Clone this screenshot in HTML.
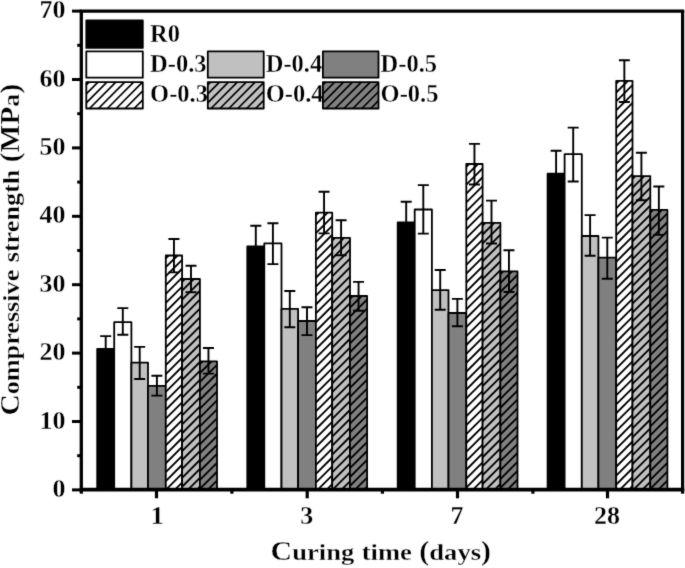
<!DOCTYPE html><html><head><meta charset="utf-8"><style>html,body{margin:0;padding:0;background:#fff;}svg{display:block;will-change:transform;}text{font-family:"Liberation Serif",serif;font-weight:bold;}.th{stroke:#fff;stroke-width:0.3px;}</style></head><body>
<svg width="685" height="568" viewBox="0 0 685 568">
<defs><filter id="bl" color-interpolation-filters="sRGB" filterUnits="userSpaceOnUse" x="0" y="0" width="685" height="568"><feConvolveMatrix order="3" kernelMatrix="0.0113 0.0838 0.0113 0.0838 0.6193 0.0838 0.0113 0.0838 0.0113" edgeMode="duplicate" preserveAlpha="true"/></filter>
</defs><g filter="url(#bl)">
<rect width="685" height="568" fill="#fff"/>
<path d="M97.20 489.20V348.90H114.20V489.20" fill="#000" stroke="#000" stroke-width="1.8" stroke-linejoin="round"/>
<path d="M114.20 489.20V322.20H131.40V489.20" fill="#fff" stroke="#000" stroke-width="1.8" stroke-linejoin="round"/>
<path d="M131.40 489.20V362.60H148.00V489.20" fill="#c0c0c0" stroke="#000" stroke-width="1.8" stroke-linejoin="round"/>
<path d="M148.00 489.20V385.80H165.80V489.20" fill="#808080" stroke="#000" stroke-width="1.8" stroke-linejoin="round"/>
<path d="M165.80 489.20V255.50H182.10V489.20Z" fill="#fff"/>
<path d="M165.80 258.30L168.60 255.50M165.80 267.21L177.51 255.50M165.80 276.12L182.10 259.82M165.80 285.03L182.10 268.73M165.80 293.94L182.10 277.64M165.80 302.85L182.10 286.55M165.80 311.76L182.10 295.46M165.80 320.67L182.10 304.37M165.80 329.58L182.10 313.28M165.80 338.49L182.10 322.19M165.80 347.40L182.10 331.10M165.80 356.31L182.10 340.01M165.80 365.22L182.10 348.92M165.80 374.13L182.10 357.83M165.80 383.04L182.10 366.74M165.80 391.95L182.10 375.65M165.80 400.86L182.10 384.56M165.80 409.77L182.10 393.47M165.80 418.68L182.10 402.38M165.80 427.59L182.10 411.29M165.80 436.50L182.10 420.20M165.80 445.41L182.10 429.11M165.80 454.32L182.10 438.02M165.80 463.23L182.10 446.93M165.80 472.14L182.10 455.84M165.80 481.05L182.10 464.75M166.56 489.20L182.10 473.66M175.47 489.20L182.10 482.57" stroke="#000" stroke-width="1.85" fill="none"/>
<path d="M165.80 489.20V255.50H182.10V489.20" fill="none" stroke="#000" stroke-width="1.8" stroke-linejoin="round"/>
<path d="M182.10 489.20V279.00H199.90V489.20Z" fill="#c0c0c0"/>
<path d="M182.10 281.80L184.90 279.00M182.10 290.71L193.81 279.00M182.10 299.62L199.90 281.82M182.10 308.53L199.90 290.73M182.10 317.44L199.90 299.64M182.10 326.35L199.90 308.55M182.10 335.26L199.90 317.46M182.10 344.17L199.90 326.37M182.10 353.08L199.90 335.28M182.10 361.99L199.90 344.19M182.10 370.90L199.90 353.10M182.10 379.81L199.90 362.01M182.10 388.72L199.90 370.92M182.10 397.63L199.90 379.83M182.10 406.54L199.90 388.74M182.10 415.45L199.90 397.65M182.10 424.36L199.90 406.56M182.10 433.27L199.90 415.47M182.10 442.18L199.90 424.38M182.10 451.09L199.90 433.29M182.10 460.00L199.90 442.20M182.10 468.91L199.90 451.11M182.10 477.82L199.90 460.02M182.10 486.73L199.90 468.93M188.54 489.20L199.90 477.84M197.45 489.20L199.90 486.75" stroke="#000" stroke-width="1.85" fill="none"/>
<path d="M182.10 489.20V279.00H199.90V489.20" fill="none" stroke="#000" stroke-width="1.8" stroke-linejoin="round"/>
<path d="M199.90 489.20V361.30H217.00V489.20Z" fill="#808080"/>
<path d="M199.90 364.10L202.70 361.30M199.90 373.01L211.61 361.30M199.90 381.92L217.00 364.82M199.90 390.83L217.00 373.73M199.90 399.74L217.00 382.64M199.90 408.65L217.00 391.55M199.90 417.56L217.00 400.46M199.90 426.47L217.00 409.37M199.90 435.38L217.00 418.28M199.90 444.29L217.00 427.19M199.90 453.20L217.00 436.10M199.90 462.11L217.00 445.01M199.90 471.02L217.00 453.92M199.90 479.93L217.00 462.83M199.90 488.84L217.00 471.74M208.45 489.20L217.00 480.65" stroke="#000" stroke-width="1.85" fill="none"/>
<path d="M199.90 489.20V361.30H217.00V489.20" fill="none" stroke="#000" stroke-width="1.8" stroke-linejoin="round"/>
<path d="M247.30 489.20V246.40H264.30V489.20" fill="#000" stroke="#000" stroke-width="1.8" stroke-linejoin="round"/>
<path d="M264.30 489.20V243.40H281.50V489.20" fill="#fff" stroke="#000" stroke-width="1.8" stroke-linejoin="round"/>
<path d="M281.50 489.20V308.90H298.10V489.20" fill="#c0c0c0" stroke="#000" stroke-width="1.8" stroke-linejoin="round"/>
<path d="M298.10 489.20V321.00H315.90V489.20" fill="#808080" stroke="#000" stroke-width="1.8" stroke-linejoin="round"/>
<path d="M315.90 489.20V212.60H332.20V489.20Z" fill="#fff"/>
<path d="M315.90 215.40L318.70 212.60M315.90 224.31L327.61 212.60M315.90 233.22L332.20 216.92M315.90 242.13L332.20 225.83M315.90 251.04L332.20 234.74M315.90 259.95L332.20 243.65M315.90 268.86L332.20 252.56M315.90 277.77L332.20 261.47M315.90 286.68L332.20 270.38M315.90 295.59L332.20 279.29M315.90 304.50L332.20 288.20M315.90 313.41L332.20 297.11M315.90 322.32L332.20 306.02M315.90 331.23L332.20 314.93M315.90 340.14L332.20 323.84M315.90 349.05L332.20 332.75M315.90 357.96L332.20 341.66M315.90 366.87L332.20 350.57M315.90 375.78L332.20 359.48M315.90 384.69L332.20 368.39M315.90 393.60L332.20 377.30M315.90 402.51L332.20 386.21M315.90 411.42L332.20 395.12M315.90 420.33L332.20 404.03M315.90 429.24L332.20 412.94M315.90 438.15L332.20 421.85M315.90 447.06L332.20 430.76M315.90 455.97L332.20 439.67M315.90 464.88L332.20 448.58M315.90 473.79L332.20 457.49M315.90 482.70L332.20 466.40M318.31 489.20L332.20 475.31M327.22 489.20L332.20 484.22" stroke="#000" stroke-width="1.85" fill="none"/>
<path d="M315.90 489.20V212.60H332.20V489.20" fill="none" stroke="#000" stroke-width="1.8" stroke-linejoin="round"/>
<path d="M332.20 489.20V237.90H350.00V489.20Z" fill="#c0c0c0"/>
<path d="M332.20 240.70L335.00 237.90M332.20 249.61L343.91 237.90M332.20 258.52L350.00 240.72M332.20 267.43L350.00 249.63M332.20 276.34L350.00 258.54M332.20 285.25L350.00 267.45M332.20 294.16L350.00 276.36M332.20 303.07L350.00 285.27M332.20 311.98L350.00 294.18M332.20 320.89L350.00 303.09M332.20 329.80L350.00 312.00M332.20 338.71L350.00 320.91M332.20 347.62L350.00 329.82M332.20 356.53L350.00 338.73M332.20 365.44L350.00 347.64M332.20 374.35L350.00 356.55M332.20 383.26L350.00 365.46M332.20 392.17L350.00 374.37M332.20 401.08L350.00 383.28M332.20 409.99L350.00 392.19M332.20 418.90L350.00 401.10M332.20 427.81L350.00 410.01M332.20 436.72L350.00 418.92M332.20 445.63L350.00 427.83M332.20 454.54L350.00 436.74M332.20 463.45L350.00 445.65M332.20 472.36L350.00 454.56M332.20 481.27L350.00 463.47M333.18 489.20L350.00 472.38M342.09 489.20L350.00 481.29" stroke="#000" stroke-width="1.85" fill="none"/>
<path d="M332.20 489.20V237.90H350.00V489.20" fill="none" stroke="#000" stroke-width="1.8" stroke-linejoin="round"/>
<path d="M350.00 489.20V296.00H367.10V489.20Z" fill="#808080"/>
<path d="M350.00 298.80L352.80 296.00M350.00 307.71L361.71 296.00M350.00 316.62L367.10 299.52M350.00 325.53L367.10 308.43M350.00 334.44L367.10 317.34M350.00 343.35L367.10 326.25M350.00 352.26L367.10 335.16M350.00 361.17L367.10 344.07M350.00 370.08L367.10 352.98M350.00 378.99L367.10 361.89M350.00 387.90L367.10 370.80M350.00 396.81L367.10 379.71M350.00 405.72L367.10 388.62M350.00 414.63L367.10 397.53M350.00 423.54L367.10 406.44M350.00 432.45L367.10 415.35M350.00 441.36L367.10 424.26M350.00 450.27L367.10 433.17M350.00 459.18L367.10 442.08M350.00 468.09L367.10 450.99M350.00 477.00L367.10 459.90M350.00 485.91L367.10 468.81M355.62 489.20L367.10 477.72M364.53 489.20L367.10 486.63" stroke="#000" stroke-width="1.85" fill="none"/>
<path d="M350.00 489.20V296.00H367.10V489.20" fill="none" stroke="#000" stroke-width="1.8" stroke-linejoin="round"/>
<path d="M397.70 489.20V222.40H414.70V489.20" fill="#000" stroke="#000" stroke-width="1.8" stroke-linejoin="round"/>
<path d="M414.70 489.20V209.50H431.90V489.20" fill="#fff" stroke="#000" stroke-width="1.8" stroke-linejoin="round"/>
<path d="M431.90 489.20V290.20H448.50V489.20" fill="#c0c0c0" stroke="#000" stroke-width="1.8" stroke-linejoin="round"/>
<path d="M448.50 489.20V313.00H466.30V489.20" fill="#808080" stroke="#000" stroke-width="1.8" stroke-linejoin="round"/>
<path d="M466.30 489.20V164.00H482.60V489.20Z" fill="#fff"/>
<path d="M466.30 166.80L469.10 164.00M466.30 175.71L478.01 164.00M466.30 184.62L482.60 168.32M466.30 193.53L482.60 177.23M466.30 202.44L482.60 186.14M466.30 211.35L482.60 195.05M466.30 220.26L482.60 203.96M466.30 229.17L482.60 212.87M466.30 238.08L482.60 221.78M466.30 246.99L482.60 230.69M466.30 255.90L482.60 239.60M466.30 264.81L482.60 248.51M466.30 273.72L482.60 257.42M466.30 282.63L482.60 266.33M466.30 291.54L482.60 275.24M466.30 300.45L482.60 284.15M466.30 309.36L482.60 293.06M466.30 318.27L482.60 301.97M466.30 327.18L482.60 310.88M466.30 336.09L482.60 319.79M466.30 345.00L482.60 328.70M466.30 353.91L482.60 337.61M466.30 362.82L482.60 346.52M466.30 371.73L482.60 355.43M466.30 380.64L482.60 364.34M466.30 389.55L482.60 373.25M466.30 398.46L482.60 382.16M466.30 407.37L482.60 391.07M466.30 416.28L482.60 399.98M466.30 425.19L482.60 408.89M466.30 434.10L482.60 417.80M466.30 443.01L482.60 426.71M466.30 451.92L482.60 435.62M466.30 460.83L482.60 444.53M466.30 469.74L482.60 453.44M466.30 478.65L482.60 462.35M466.30 487.56L482.60 471.26M473.57 489.20L482.60 480.17M482.48 489.20L482.60 489.08" stroke="#000" stroke-width="1.85" fill="none"/>
<path d="M466.30 489.20V164.00H482.60V489.20" fill="none" stroke="#000" stroke-width="1.8" stroke-linejoin="round"/>
<path d="M482.60 489.20V222.80H500.40V489.20Z" fill="#c0c0c0"/>
<path d="M482.60 225.60L485.40 222.80M482.60 234.51L494.31 222.80M482.60 243.42L500.40 225.62M482.60 252.33L500.40 234.53M482.60 261.24L500.40 243.44M482.60 270.15L500.40 252.35M482.60 279.06L500.40 261.26M482.60 287.97L500.40 270.17M482.60 296.88L500.40 279.08M482.60 305.79L500.40 287.99M482.60 314.70L500.40 296.90M482.60 323.61L500.40 305.81M482.60 332.52L500.40 314.72M482.60 341.43L500.40 323.63M482.60 350.34L500.40 332.54M482.60 359.25L500.40 341.45M482.60 368.16L500.40 350.36M482.60 377.07L500.40 359.27M482.60 385.98L500.40 368.18M482.60 394.89L500.40 377.09M482.60 403.80L500.40 386.00M482.60 412.71L500.40 394.91M482.60 421.62L500.40 403.82M482.60 430.53L500.40 412.73M482.60 439.44L500.40 421.64M482.60 448.35L500.40 430.55M482.60 457.26L500.40 439.46M482.60 466.17L500.40 448.37M482.60 475.08L500.40 457.28M482.60 483.99L500.40 466.19M486.30 489.20L500.40 475.10M495.21 489.20L500.40 484.01" stroke="#000" stroke-width="1.85" fill="none"/>
<path d="M482.60 489.20V222.80H500.40V489.20" fill="none" stroke="#000" stroke-width="1.8" stroke-linejoin="round"/>
<path d="M500.40 489.20V271.30H517.50V489.20Z" fill="#808080"/>
<path d="M500.40 274.10L503.20 271.30M500.40 283.01L512.11 271.30M500.40 291.92L517.50 274.82M500.40 300.83L517.50 283.73M500.40 309.74L517.50 292.64M500.40 318.65L517.50 301.55M500.40 327.56L517.50 310.46M500.40 336.47L517.50 319.37M500.40 345.38L517.50 328.28M500.40 354.29L517.50 337.19M500.40 363.20L517.50 346.10M500.40 372.11L517.50 355.01M500.40 381.02L517.50 363.92M500.40 389.93L517.50 372.83M500.40 398.84L517.50 381.74M500.40 407.75L517.50 390.65M500.40 416.66L517.50 399.56M500.40 425.57L517.50 408.47M500.40 434.48L517.50 417.38M500.40 443.39L517.50 426.29M500.40 452.30L517.50 435.20M500.40 461.21L517.50 444.11M500.40 470.12L517.50 453.02M500.40 479.03L517.50 461.93M500.40 487.94L517.50 470.84M508.05 489.20L517.50 479.75M516.96 489.20L517.50 488.66" stroke="#000" stroke-width="1.85" fill="none"/>
<path d="M500.40 489.20V271.30H517.50V489.20" fill="none" stroke="#000" stroke-width="1.8" stroke-linejoin="round"/>
<path d="M547.60 489.20V173.60H564.60V489.20" fill="#000" stroke="#000" stroke-width="1.8" stroke-linejoin="round"/>
<path d="M564.60 489.20V154.20H581.80V489.20" fill="#fff" stroke="#000" stroke-width="1.8" stroke-linejoin="round"/>
<path d="M581.80 489.20V236.00H598.40V489.20" fill="#c0c0c0" stroke="#000" stroke-width="1.8" stroke-linejoin="round"/>
<path d="M598.40 489.20V257.70H616.20V489.20" fill="#808080" stroke="#000" stroke-width="1.8" stroke-linejoin="round"/>
<path d="M616.20 489.20V80.80H632.50V489.20Z" fill="#fff"/>
<path d="M616.20 83.60L619.00 80.80M616.20 92.51L627.91 80.80M616.20 101.42L632.50 85.12M616.20 110.33L632.50 94.03M616.20 119.24L632.50 102.94M616.20 128.15L632.50 111.85M616.20 137.06L632.50 120.76M616.20 145.97L632.50 129.67M616.20 154.88L632.50 138.58M616.20 163.79L632.50 147.49M616.20 172.70L632.50 156.40M616.20 181.61L632.50 165.31M616.20 190.52L632.50 174.22M616.20 199.43L632.50 183.13M616.20 208.34L632.50 192.04M616.20 217.25L632.50 200.95M616.20 226.16L632.50 209.86M616.20 235.07L632.50 218.77M616.20 243.98L632.50 227.68M616.20 252.89L632.50 236.59M616.20 261.80L632.50 245.50M616.20 270.71L632.50 254.41M616.20 279.62L632.50 263.32M616.20 288.53L632.50 272.23M616.20 297.44L632.50 281.14M616.20 306.35L632.50 290.05M616.20 315.26L632.50 298.96M616.20 324.17L632.50 307.87M616.20 333.08L632.50 316.78M616.20 341.99L632.50 325.69M616.20 350.90L632.50 334.60M616.20 359.81L632.50 343.51M616.20 368.72L632.50 352.42M616.20 377.63L632.50 361.33M616.20 386.54L632.50 370.24M616.20 395.45L632.50 379.15M616.20 404.36L632.50 388.06M616.20 413.27L632.50 396.97M616.20 422.18L632.50 405.88M616.20 431.09L632.50 414.79M616.20 440.00L632.50 423.70M616.20 448.91L632.50 432.61M616.20 457.82L632.50 441.52M616.20 466.73L632.50 450.43M616.20 475.64L632.50 459.34M616.20 484.55L632.50 468.25M620.46 489.20L632.50 477.16M629.37 489.20L632.50 486.07" stroke="#000" stroke-width="1.85" fill="none"/>
<path d="M616.20 489.20V80.80H632.50V489.20" fill="none" stroke="#000" stroke-width="1.8" stroke-linejoin="round"/>
<path d="M632.50 489.20V176.10H650.30V489.20Z" fill="#c0c0c0"/>
<path d="M632.50 178.90L635.30 176.10M632.50 187.81L644.21 176.10M632.50 196.72L650.30 178.92M632.50 205.63L650.30 187.83M632.50 214.54L650.30 196.74M632.50 223.45L650.30 205.65M632.50 232.36L650.30 214.56M632.50 241.27L650.30 223.47M632.50 250.18L650.30 232.38M632.50 259.09L650.30 241.29M632.50 268.00L650.30 250.20M632.50 276.91L650.30 259.11M632.50 285.82L650.30 268.02M632.50 294.73L650.30 276.93M632.50 303.64L650.30 285.84M632.50 312.55L650.30 294.75M632.50 321.46L650.30 303.66M632.50 330.37L650.30 312.57M632.50 339.28L650.30 321.48M632.50 348.19L650.30 330.39M632.50 357.10L650.30 339.30M632.50 366.01L650.30 348.21M632.50 374.92L650.30 357.12M632.50 383.83L650.30 366.03M632.50 392.74L650.30 374.94M632.50 401.65L650.30 383.85M632.50 410.56L650.30 392.76M632.50 419.47L650.30 401.67M632.50 428.38L650.30 410.58M632.50 437.29L650.30 419.49M632.50 446.20L650.30 428.40M632.50 455.11L650.30 437.31M632.50 464.02L650.30 446.22M632.50 472.93L650.30 455.13M632.50 481.84L650.30 464.04M634.05 489.20L650.30 472.95M642.96 489.20L650.30 481.86" stroke="#000" stroke-width="1.85" fill="none"/>
<path d="M632.50 489.20V176.10H650.30V489.20" fill="none" stroke="#000" stroke-width="1.8" stroke-linejoin="round"/>
<path d="M650.30 489.20V209.80H667.40V489.20Z" fill="#808080"/>
<path d="M650.30 212.60L653.10 209.80M650.30 221.51L662.01 209.80M650.30 230.42L667.40 213.32M650.30 239.33L667.40 222.23M650.30 248.24L667.40 231.14M650.30 257.15L667.40 240.05M650.30 266.06L667.40 248.96M650.30 274.97L667.40 257.87M650.30 283.88L667.40 266.78M650.30 292.79L667.40 275.69M650.30 301.70L667.40 284.60M650.30 310.61L667.40 293.51M650.30 319.52L667.40 302.42M650.30 328.43L667.40 311.33M650.30 337.34L667.40 320.24M650.30 346.25L667.40 329.15M650.30 355.16L667.40 338.06M650.30 364.07L667.40 346.97M650.30 372.98L667.40 355.88M650.30 381.89L667.40 364.79M650.30 390.80L667.40 373.70M650.30 399.71L667.40 382.61M650.30 408.62L667.40 391.52M650.30 417.53L667.40 400.43M650.30 426.44L667.40 409.34M650.30 435.35L667.40 418.25M650.30 444.26L667.40 427.16M650.30 453.17L667.40 436.07M650.30 462.08L667.40 444.98M650.30 470.99L667.40 453.89M650.30 479.90L667.40 462.80M650.30 488.81L667.40 471.71M658.82 489.20L667.40 480.62" stroke="#000" stroke-width="1.85" fill="none"/>
<path d="M650.30 489.20V209.80H667.40V489.20" fill="none" stroke="#000" stroke-width="1.8" stroke-linejoin="round"/>
<path d="M105.70 336.10V361.70M100.20 336.10H111.20M100.20 361.70H111.20" stroke="#000" stroke-width="1.9" fill="none"/>
<path d="M122.80 308.10V334.70M117.30 308.10H128.30M117.30 334.70H128.30" stroke="#000" stroke-width="1.9" fill="none"/>
<path d="M139.70 346.90V379.00M134.20 346.90H145.20M134.20 379.00H145.20" stroke="#000" stroke-width="1.9" fill="none"/>
<path d="M156.90 375.80V395.60M151.40 375.80H162.40M151.40 395.60H162.40" stroke="#000" stroke-width="1.9" fill="none"/>
<path d="M173.95 238.95V272.40M168.45 238.95H179.45M168.45 272.40H179.45" stroke="#000" stroke-width="1.9" fill="none"/>
<path d="M191.00 265.80V292.20M185.50 265.80H196.50M185.50 292.20H196.50" stroke="#000" stroke-width="1.9" fill="none"/>
<path d="M208.45 348.00V373.60M202.95 348.00H213.95M202.95 373.60H213.95" stroke="#000" stroke-width="1.9" fill="none"/>
<path d="M255.80 225.80V267.00M250.30 225.80H261.30M250.30 267.00H261.30" stroke="#000" stroke-width="1.9" fill="none"/>
<path d="M272.90 223.20V264.10M267.40 223.20H278.40M267.40 264.10H278.40" stroke="#000" stroke-width="1.9" fill="none"/>
<path d="M289.80 291.00V327.30M284.30 291.00H295.30M284.30 327.30H295.30" stroke="#000" stroke-width="1.9" fill="none"/>
<path d="M307.00 307.20V335.10M301.50 307.20H312.50M301.50 335.10H312.50" stroke="#000" stroke-width="1.9" fill="none"/>
<path d="M324.05 191.70V233.40M318.55 191.70H329.55M318.55 233.40H329.55" stroke="#000" stroke-width="1.9" fill="none"/>
<path d="M341.10 220.30V255.20M335.60 220.30H346.60M335.60 255.20H346.60" stroke="#000" stroke-width="1.9" fill="none"/>
<path d="M358.55 281.90V310.80M353.05 281.90H364.05M353.05 310.80H364.05" stroke="#000" stroke-width="1.9" fill="none"/>
<path d="M406.20 201.70V243.10M400.70 201.70H411.70M400.70 243.10H411.70" stroke="#000" stroke-width="1.9" fill="none"/>
<path d="M423.30 185.10V233.60M417.80 185.10H428.80M417.80 233.60H428.80" stroke="#000" stroke-width="1.9" fill="none"/>
<path d="M440.20 270.00V309.70M434.70 270.00H445.70M434.70 309.70H445.70" stroke="#000" stroke-width="1.9" fill="none"/>
<path d="M457.40 298.90V326.30M451.90 298.90H462.90M451.90 326.30H462.90" stroke="#000" stroke-width="1.9" fill="none"/>
<path d="M474.45 143.90V184.50M468.95 143.90H479.95M468.95 184.50H479.95" stroke="#000" stroke-width="1.9" fill="none"/>
<path d="M491.50 200.60V243.50M486.00 200.60H497.00M486.00 243.50H497.00" stroke="#000" stroke-width="1.9" fill="none"/>
<path d="M508.95 250.20V292.00M503.45 250.20H514.45M503.45 292.00H514.45" stroke="#000" stroke-width="1.9" fill="none"/>
<path d="M556.10 150.80V196.40M550.60 150.80H561.60M550.60 196.40H561.60" stroke="#000" stroke-width="1.9" fill="none"/>
<path d="M573.20 127.60V181.50M567.70 127.60H578.70M567.70 181.50H578.70" stroke="#000" stroke-width="1.9" fill="none"/>
<path d="M590.10 215.10V255.70M584.60 215.10H595.60M584.60 255.70H595.60" stroke="#000" stroke-width="1.9" fill="none"/>
<path d="M607.30 237.60V278.70M601.80 237.60H612.80M601.80 278.70H612.80" stroke="#000" stroke-width="1.9" fill="none"/>
<path d="M624.35 60.20V102.00M618.85 60.20H629.85M618.85 102.00H629.85" stroke="#000" stroke-width="1.9" fill="none"/>
<path d="M641.40 152.70V200.30M635.90 152.70H646.90M635.90 200.30H646.90" stroke="#000" stroke-width="1.9" fill="none"/>
<path d="M658.85 186.50V234.90M653.35 186.50H664.35M653.35 234.90H664.35" stroke="#000" stroke-width="1.9" fill="none"/>
<path d="M79.64999999999999 11.1H684.2" stroke="#000" stroke-width="3.2"/>
<path d="M79.64999999999999 489.6H684.2" stroke="#000" stroke-width="3.8"/>
<path d="M81.3 11.1V489.6" stroke="#000" stroke-width="3.3"/>
<path d="M682.6 11.1V489.6" stroke="#000" stroke-width="3.2"/>
<path d="M72 489.90H81.3" stroke="#000" stroke-width="3"/>
<path d="M72 421.50H81.3" stroke="#000" stroke-width="3"/>
<path d="M72 353.10H81.3" stroke="#000" stroke-width="3"/>
<path d="M72 284.70H81.3" stroke="#000" stroke-width="3"/>
<path d="M72 216.30H81.3" stroke="#000" stroke-width="3"/>
<path d="M72 147.90H81.3" stroke="#000" stroke-width="3"/>
<path d="M72 79.50H81.3" stroke="#000" stroke-width="3"/>
<path d="M72 11.10H81.3" stroke="#000" stroke-width="3"/>
<path d="M77.2 455.70H81.3" stroke="#000" stroke-width="3"/>
<path d="M77.2 387.30H81.3" stroke="#000" stroke-width="3"/>
<path d="M77.2 318.90H81.3" stroke="#000" stroke-width="3"/>
<path d="M77.2 250.50H81.3" stroke="#000" stroke-width="3"/>
<path d="M77.2 182.10H81.3" stroke="#000" stroke-width="3"/>
<path d="M77.2 113.70H81.3" stroke="#000" stroke-width="3"/>
<path d="M77.2 45.30H81.3" stroke="#000" stroke-width="3"/>
<path d="M156.5 489.2V498.3" stroke="#000" stroke-width="3.2"/>
<path d="M307.2 489.2V498.3" stroke="#000" stroke-width="3.2"/>
<path d="M457.5 489.2V498.3" stroke="#000" stroke-width="3.2"/>
<path d="M607.5 489.2V498.3" stroke="#000" stroke-width="3.2"/>
<path d="M81.3 489.2V493.7" stroke="#000" stroke-width="3.2"/>
<path d="M231.9 489.2V493.7" stroke="#000" stroke-width="3.2"/>
<path d="M382.4 489.2V493.7" stroke="#000" stroke-width="3.2"/>
<path d="M532.9 489.2V493.7" stroke="#000" stroke-width="3.2"/>
<path d="M682.6 489.2V493.7" stroke="#000" stroke-width="3.2"/>
<text x="65.6" y="496.90" font-size="26" text-anchor="end" class="th">0</text>
<text x="65.6" y="428.50" font-size="26" text-anchor="end" class="th">10</text>
<text x="65.6" y="360.10" font-size="26" text-anchor="end" class="th">20</text>
<text x="65.6" y="291.70" font-size="26" text-anchor="end" class="th">30</text>
<text x="65.6" y="223.30" font-size="26" text-anchor="end" class="th">40</text>
<text x="65.6" y="154.90" font-size="26" text-anchor="end" class="th">50</text>
<text x="65.6" y="86.50" font-size="26" text-anchor="end" class="th">60</text>
<text x="65.6" y="18.10" font-size="26" text-anchor="end" class="th">70</text>
<text x="157.3" y="524" font-size="26" text-anchor="middle" class="th">1</text>
<text x="306.7" y="524" font-size="26" text-anchor="middle" class="th">3</text>
<text x="457.1" y="524" font-size="26" text-anchor="middle" class="th">7</text>
<text x="606.9" y="524" font-size="26" text-anchor="middle" class="th">28</text>
<text x="270.6" y="559.6" textLength="220.4" lengthAdjust="spacingAndGlyphs" class="th"><tspan font-size="26.5">C</tspan><tspan font-size="23.6">uring</tspan><tspan font-size="26.5"> </tspan><tspan font-size="23.6">time</tspan><tspan font-size="26.5"> (</tspan><tspan font-size="23.6">days</tspan><tspan font-size="26.5">)</tspan></text>
<text transform="translate(19.4,415.6) rotate(-90)" x="0" y="0" textLength="331.8" lengthAdjust="spacingAndGlyphs" class="th"><tspan font-size="26.5">C</tspan><tspan font-size="23.6">ompressive</tspan><tspan font-size="26.5"> </tspan><tspan font-size="23.6">strength</tspan><tspan font-size="26.5"> (MP</tspan><tspan font-size="23.6">a</tspan><tspan font-size="26.5">)</tspan></text>
<rect x="86.30" y="20.40" width="56.50" height="27.50" fill="#000" stroke="#000" stroke-width="1.8" stroke-linejoin="round"/>
<text x="150.1" y="41.7" font-size="24.5" class="th">R0</text>
<rect x="86.30" y="51.40" width="56.50" height="26.30" fill="#fff" stroke="#000" stroke-width="1.8" stroke-linejoin="round"/>
<text x="150.1" y="72.3" font-size="24.5" class="th">D-0.3</text>
<rect x="207.80" y="51.40" width="55.90" height="26.30" fill="#c0c0c0" stroke="#000" stroke-width="1.8" stroke-linejoin="round"/>
<text x="265.7" y="72.3" font-size="24.5" class="th">D-0.4</text>
<rect x="322.90" y="51.40" width="55.60" height="26.30" fill="#808080" stroke="#000" stroke-width="1.8" stroke-linejoin="round"/>
<text x="380.6" y="72.3" font-size="24.5" class="th">D-0.5</text>
<rect x="86.30" y="82.20" width="56.50" height="26.30" fill="#fff"/>
<path d="M86.30 85.00L89.10 82.20M86.30 93.91L98.01 82.20M86.30 102.82L106.92 82.20M89.53 108.50L115.83 82.20M98.44 108.50L124.74 82.20M107.35 108.50L133.65 82.20M116.26 108.50L142.56 82.20M125.17 108.50L142.80 90.87M134.08 108.50L142.80 99.78" stroke="#000" stroke-width="1.7" fill="none"/>
<rect x="86.30" y="82.20" width="56.50" height="26.30" fill="none" stroke="#000" stroke-width="1.8" stroke-linejoin="round"/>
<text x="150.1" y="102.3" font-size="24.5" class="th">O-0.3</text>
<rect x="207.80" y="82.20" width="55.90" height="26.30" fill="#c0c0c0"/>
<path d="M207.80 85.00L210.60 82.20M207.80 93.91L219.51 82.20M207.80 102.82L228.42 82.20M211.03 108.50L237.33 82.20M219.94 108.50L246.24 82.20M228.85 108.50L255.15 82.20M237.76 108.50L263.70 82.56M246.67 108.50L263.70 91.47M255.58 108.50L263.70 100.38" stroke="#000" stroke-width="1.7" fill="none"/>
<rect x="207.80" y="82.20" width="55.90" height="26.30" fill="none" stroke="#000" stroke-width="1.8" stroke-linejoin="round"/>
<text x="265.7" y="102.3" font-size="24.5" class="th">O-0.4</text>
<rect x="322.90" y="82.20" width="55.60" height="26.30" fill="#808080"/>
<path d="M322.90 85.00L325.70 82.20M322.90 93.91L334.61 82.20M322.90 102.82L343.52 82.20M326.13 108.50L352.43 82.20M335.04 108.50L361.34 82.20M343.95 108.50L370.25 82.20M352.86 108.50L378.50 82.86M361.77 108.50L378.50 91.77M370.68 108.50L378.50 100.68" stroke="#000" stroke-width="1.7" fill="none"/>
<rect x="322.90" y="82.20" width="55.60" height="26.30" fill="none" stroke="#000" stroke-width="1.8" stroke-linejoin="round"/>
<text x="380.6" y="102.3" font-size="24.5" class="th">O-0.5</text>
</g></svg></body></html>
